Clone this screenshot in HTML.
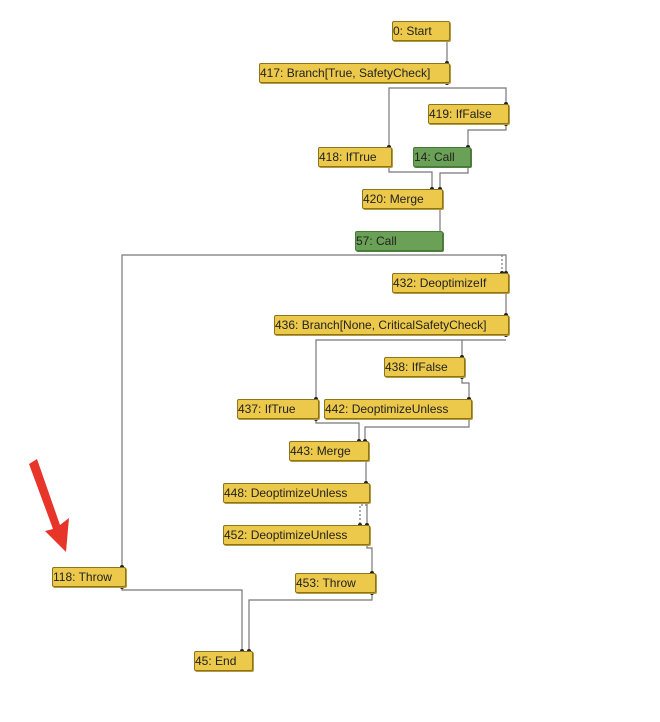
<!DOCTYPE html>
<html><head><style>
body{margin:0;background:#fff;width:660px;height:722px;overflow:hidden;position:relative;font-family:"Liberation Sans",sans-serif}
.n{position:absolute;box-sizing:border-box;background:#ecc94b;border:1px solid #8a7420;border-radius:2px;font-size:12px;line-height:18px;padding-left:0;color:#222;white-space:nowrap;box-shadow:1px 1px 0 #b59a35;overflow:hidden}
.g{background:#6aa156;border-color:#4a7a3a;box-shadow:1px 1px 0 #4f7f3e}
svg{position:absolute;left:0;top:0}
</style></head><body>
<svg width="660" height="722">
<g fill="none" stroke="#777" stroke-width="1.2">
<path d="M447 40V63"/>
<path d="M389 147V88H506V104"/>
<path d="M506 124V130H468V147"/>
<path d="M389 166V172H432V189"/>
<path d="M468 166V173H440V189"/>
<path d="M440 209V231"/>
<path d="M122 567V255H506V273"/>
<path d="M502 255V273" stroke-dasharray="2,2"/>
<path d="M506 293V315"/>
<path d="M316 399V340H506"/>
<path d="M462 340V357"/>
<path d="M462 377V383H469V399"/>
<path d="M316 419V423H359V441"/>
<path d="M469 419V427H365V441"/>
<path d="M366 461V483"/>
<path d="M367 503V525"/>
<path d="M367 505H360V525" stroke-dasharray="2,2"/>
<path d="M367 545V548H372V573"/>
<path d="M372 593V600H249V651"/>
<path d="M122 587V590H242V651"/>
</g>
<g fill="#222">
<circle cx="447" cy="63" r="2"/><circle cx="447" cy="83" r="2"/><circle cx="389" cy="147" r="2"/><circle cx="506" cy="104" r="2"/><circle cx="506" cy="124" r="2"/><circle cx="468" cy="147" r="2"/><circle cx="389" cy="166" r="2"/><circle cx="432" cy="189" r="2"/><circle cx="440" cy="189" r="2"/><circle cx="502" cy="273" r="2"/><circle cx="506" cy="273" r="2"/><circle cx="506" cy="315" r="2"/><circle cx="506" cy="335" r="2"/><circle cx="462" cy="357" r="2"/><circle cx="462" cy="377" r="2"/><circle cx="316" cy="399" r="2"/><circle cx="469" cy="399" r="2"/><circle cx="316" cy="419" r="2"/><circle cx="359" cy="441" r="2"/><circle cx="365" cy="441" r="2"/><circle cx="366" cy="483" r="2"/><circle cx="360" cy="525" r="2"/><circle cx="367" cy="525" r="2"/><circle cx="372" cy="573" r="2"/><circle cx="372" cy="593" r="2"/><circle cx="122" cy="567" r="2"/><circle cx="122" cy="587" r="2"/><circle cx="242" cy="651" r="2"/><circle cx="249" cy="651" r="2"/>
</g>
<path d="M29 464L37 459L60 525L69 518L66 552L45 531L53 529Z" fill="#e8352a"/>
</svg>
<div class="n" style="left:392px;top:21px;width:58px;height:20px">0: Start</div>
<div class="n" style="left:259px;top:63px;width:191px;height:20px">417: Branch[True, SafetyCheck]</div>
<div class="n" style="left:428px;top:104px;width:81px;height:20px">419: IfFalse</div>
<div class="n" style="left:318px;top:147px;width:74px;height:20px">418: IfTrue</div>
<div class="n g" style="left:413px;top:147px;width:58px;height:20px">14: Call</div>
<div class="n" style="left:362px;top:189px;width:81px;height:20px">420: Merge</div>
<div class="n g" style="left:355px;top:231px;width:88px;height:20px">57: Call</div>
<div class="n" style="left:392px;top:273px;width:117px;height:20px">432: DeoptimizeIf</div>
<div class="n" style="left:274px;top:315px;width:235px;height:20px">436: Branch[None, CriticalSafetyCheck]</div>
<div class="n" style="left:384px;top:357px;width:81px;height:20px">438: IfFalse</div>
<div class="n" style="left:237px;top:399px;width:82px;height:20px">437: IfTrue</div>
<div class="n" style="left:324px;top:399px;width:148px;height:20px">442: DeoptimizeUnless</div>
<div class="n" style="left:289px;top:441px;width:80px;height:20px">443: Merge</div>
<div class="n" style="left:223px;top:483px;width:147px;height:20px">448: DeoptimizeUnless</div>
<div class="n" style="left:223px;top:525px;width:147px;height:20px">452: DeoptimizeUnless</div>
<div class="n" style="left:52px;top:567px;width:74px;height:20px">118: Throw</div>
<div class="n" style="left:295px;top:573px;width:81px;height:20px">453: Throw</div>
<div class="n" style="left:194px;top:651px;width:59px;height:20px">45: End</div>
</body></html>
